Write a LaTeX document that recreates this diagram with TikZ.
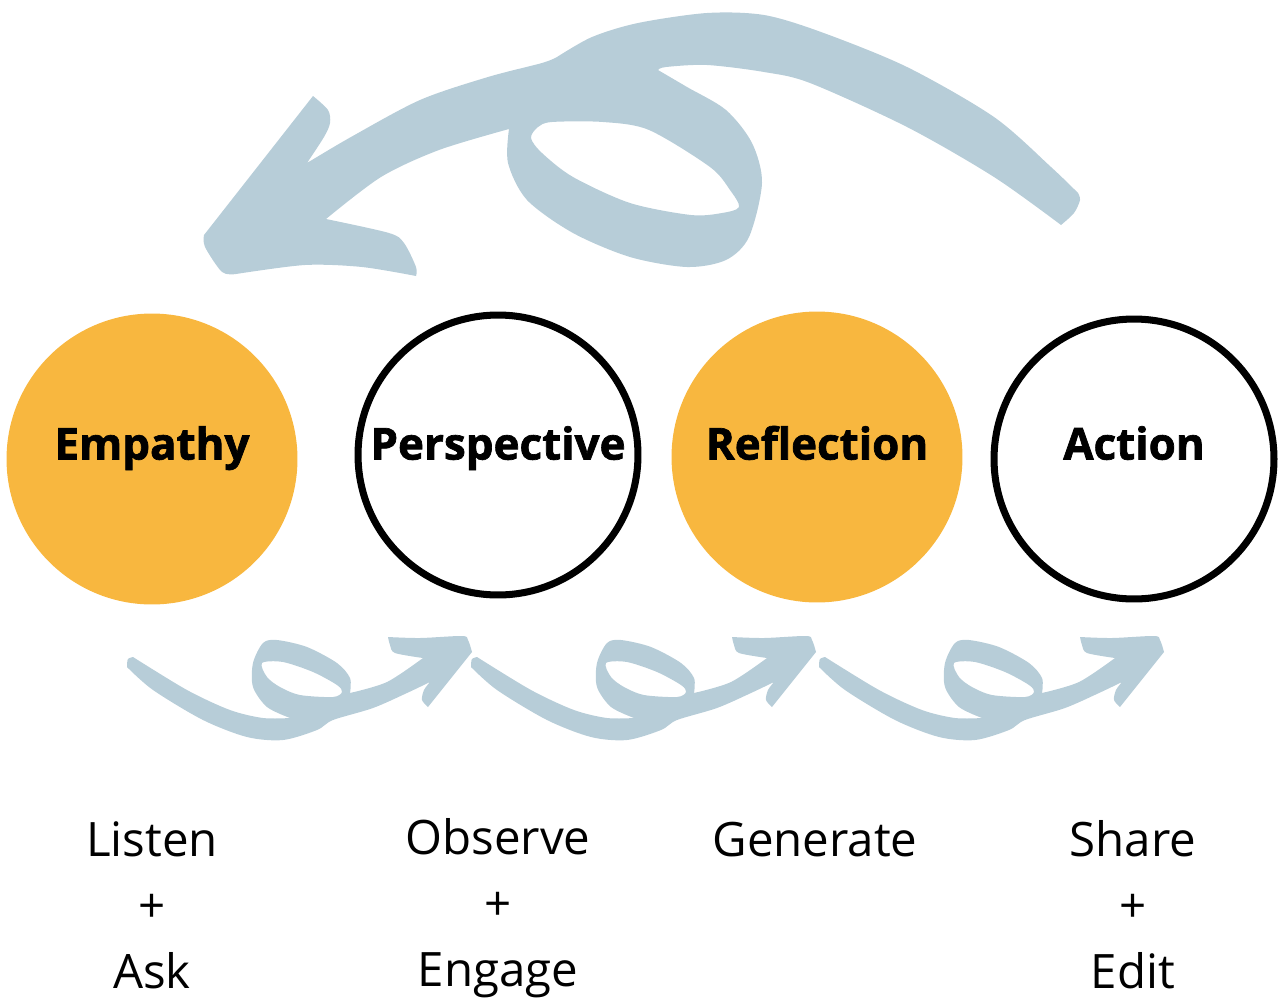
\documentclass[tikz,border=0pt]{standalone}
\usepackage{fontspec}
\setmainfont{Open Sans}
\newfontfamily\heavyfont{Open Sans}[BoldFeatures={FakeBold=1.6}]
\usetikzlibrary{positioning}
\definecolor{stageorange}{HTML}{F8B73F}
\definecolor{flowblue}{HTML}{B7CDD8}
\tikzset{
	fullstage/.style={circle,fill=stageorange,minimum size=5.82cm,inner sep=0pt},
	openstage/.style={circle,draw=black,line width=4pt,minimum size=5.6cm,inner sep=0pt},
	stagename/.style={anchor=base,font=\heavyfont\bfseries\fontsize{25}{30}\selectfont},
	stepnote/.style={align=center,font=\fontsize{27}{37.5}\selectfont}
}
\begin{document}
\begin{tikzpicture}[x=0.02cm,y=-0.02cm]
		\useasboundingbox (0,0) rectangle (1280,1001);

		% the four stages
		\node[fullstage] (empathy) at (152,459) {};
		\node[openstage] (perspective) at (498,455) {};
		\node[fullstage] (reflection) at (817,457) {};
		\node[openstage] (action) at (1134,459) {};

		\node[stagename] (empathylbl) at ([yshift=-0.01cm]empathy.center) {Empathy};
		\node[stagename] (perspectivelbl) at ([yshift=-0.09cm]perspective.center) {Perspective};
		\node[stagename] (reflectionlbl) at ([yshift=-0.05cm]reflection.center) {Reflection};
		\node[stagename] (actionlbl) at ([yshift=-0.01cm]action.center) {Action};

		% what happens in each stage
		\node[stepnote] (listen) at (152,905) {Listen\\+\\Ask};
		\node[stepnote] (observe) at (498,908) {Observe\\+\\Engage};
		\node[stepnote] (generate) at (815,840) {Generate};
		\node[stepnote] (share) at (1133,905) {Share\\+\\Edit};

		% big arrow back from action to empathy
		\fill[flowblue,even odd rule] (204,235) -- (313,96)
			-- plot[smooth] coordinates {(313,96) (328,110) (330,123) (324,137) (307,163)}
			-- plot[smooth] coordinates {(307,163) (351,137) (420,100) (488,77) (542,63) (557,57)}
			-- plot[smooth] coordinates {(557,57) (592,37) (638,23) (707,13) (764,15) (821,32) (907,67) (994,117) (1051,167) (1078,193)}
			-- plot[smooth] coordinates {(1078,193) (1080,200) (1074,213) (1061,225)}
			-- plot[smooth] coordinates {(1061,225) (994,177) (907,127) (810,83) (764,72) (707,65) (666,67) (658,70)}
			-- plot[smooth] coordinates {(658,70) (687,87) (726,110) (752,143) (762,183) (749,237) (726,260) (687,267) (630,257) (573,233) (527,200) (508,163) (509,129)}
			-- plot[smooth] coordinates {(509,129) (439,150) (381,177) (326,219)}
			-- plot[smooth] coordinates {(326,219) (389,233) (404,243) (416,267) (416,276)}
			-- plot[smooth] coordinates {(416,276) (362,267) (305,265) (236,274)}
			-- plot[smooth] coordinates {(236,274) (222,272) (205,247) (204,235)} -- cycle
			plot[smooth cycle] coordinates {(531,138) (538,127) (552,122) (603,122) (649,130) (710,167) (730,190) (739,207) (722,213) (691,215) (630,203) (573,177) (542,153)};

		% small curly arrows between the stages
		\foreach \dx in {0,344,692}{
			\begin{scope}[shift={(\dx,0)}]
				\fill[flowblue,even odd rule] (127,665)
					-- plot[smooth] coordinates {(127,665) (128,659) (133,657)}
					-- plot[smooth] coordinates {(133,657) (187,690) (230,710) (263,718) (290,718)}
					-- plot[smooth] coordinates {(290,718) (267,707) (253,687) (253,663) (263,643) (277,640) (307,647) (337,663) (350,678) (350,693)}
					-- plot[smooth] coordinates {(350,693) (387,682) (423,658)}
					-- plot[smooth] coordinates {(423,658) (395,653) (390,645) (388,637)}
					-- plot[smooth] coordinates {(388,637) (420,638) (462,636) (468,640) (472,652)}
					-- (428,707)
					-- plot[smooth] coordinates {(428,707) (422,700) (424,690) (430,682)}
					-- plot[smooth] coordinates {(430,682) (407,693) (373,708) (333,720) (317,730) (283,740) (247,737) (203,720) (153,690) (127,667)} -- cycle
					plot[smooth cycle] coordinates {(262,663) (283,662) (313,672) (337,685) (342,692) (333,697) (300,695) (280,687) (267,677)};
			\end{scope}
		}
\end{tikzpicture}
\end{document}
